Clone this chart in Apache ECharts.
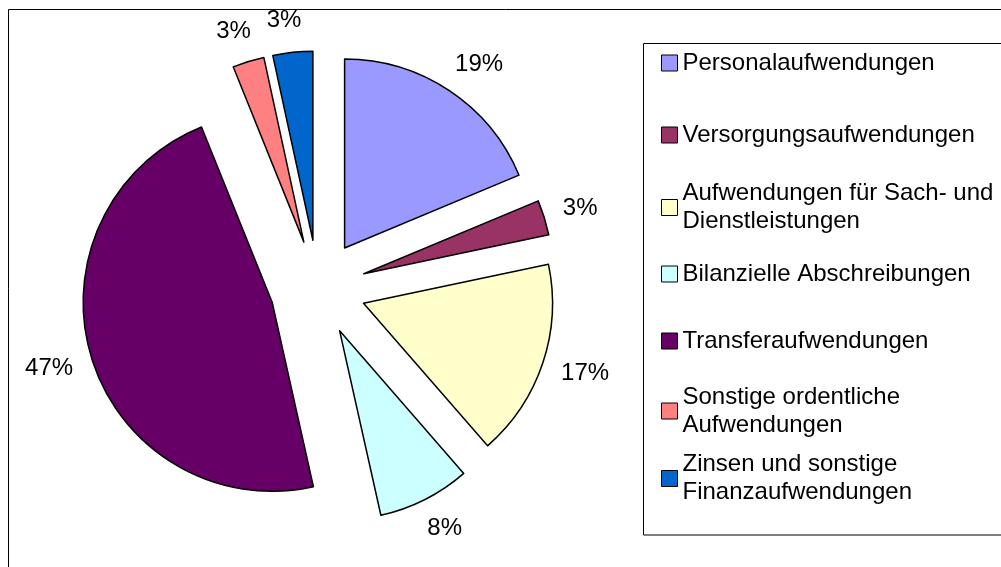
<!DOCTYPE html>
<html>
<head>
<meta charset="utf-8">
<script src="https://cdn.jsdelivr.net/npm/echarts@6/dist/echarts.min.js"></script>
<style>
html,body{margin:0;padding:0;background:#fff;}
#chart{width:1001px;height:567px;}
</style>
</head>
<body>
<div id="chart"></div>
<script>
// ---- data ----
const categories = [
  'Personalaufwendungen',
  'Versorgungsaufwendungen',
  'Aufwendungen für Sach- und\nDienstleistungen',
  'Bilanzielle Abschreibungen',
  'Transferaufwendungen',
  'Sonstige ordentliche\nAufwendungen',
  'Zinsen und sonstige\nFinanzaufwendungen'
];
const shares = [18.7, 3.0, 16.9, 7.9, 47.4, 2.7, 3.4];
const sliceColors = ['#9999FF', '#993366', '#FFFFCC', '#CCFFFF', '#660066', '#FF8080', '#0066CC'];

// ---- layout ----
const FONT = "'Liberation Sans', Arial, sans-serif";
const legendRowCenters = [63, 135, 207.5, 274, 341, 411, 478.5];
const LINE_H = 28;

const chart = echarts.init(document.getElementById('chart'), null, {renderer: 'canvas'});

const pieData = categories.map((name, i) => ({
  name: name,
  value: shares[i],
  selected: true,
  itemStyle: {color: sliceColors[i]}
}));

const legends = categories.map((name, i) => {
  const twoLines = name.indexOf('\n') >= 0;
  return {
    data: [name],
    orient: 'vertical',
    left: 661,
    top: legendRowCenters[i] - (twoLines ? 1.5 * LINE_H : LINE_H / 2),
    padding: 0,
    itemWidth: 16,
    itemHeight: 16,
    selectedMode: false,
    icon: 'rect',
    itemStyle: {borderColor: '#000', borderWidth: 1},
    textStyle: {
      fontFamily: FONT,
      fontSize: 24,
      color: '#000',
      lineHeight: LINE_H,
      padding: twoLines ? [LINE_H, 0, 0, 0] : 0
    }
  };
});

const option = {
  backgroundColor: '#fff',
  animation: false,
  legend: legends,
  graphic: [
    {type: 'rect', silent: true, z: -1,
     shape: {x: 8.5, y: 9.5, width: 1200, height: 1200},
     style: {fill: 'none', stroke: '#000', lineWidth: 1}},
    {type: 'rect', silent: true,
     shape: {x: 643.5, y: 43.5, width: 500, height: 491.5},
     style: {fill: 'none', stroke: '#000', lineWidth: 1}}
  ],
  series: [{
    type: 'pie',
    center: [318, 288],
    radius: 189,
    startAngle: 90,
    clockwise: true,
    selectedMode: 'multiple',
    selectedOffset: 48,
    avoidLabelOverlap: false,
    percentPrecision: 0,
    itemStyle: {borderColor: '#000', borderWidth: 1.5},
    label: {
      show: true,
      position: 'outside',
      formatter: '{d}%',
      fontFamily: FONT,
      fontSize: 24,
      color: '#000',
      distanceToLabelLine: -12
    },
    labelLine: {show: false, length: 32, length2: 0},
    emphasis: {disabled: true, scale: false},
    select: {
      itemStyle: {borderColor: '#000', borderWidth: 1.5},
      label: {color: '#000'}
    },
    data: pieData
  }]
};

chart.setOption(option);
</script>
</body>
</html>
